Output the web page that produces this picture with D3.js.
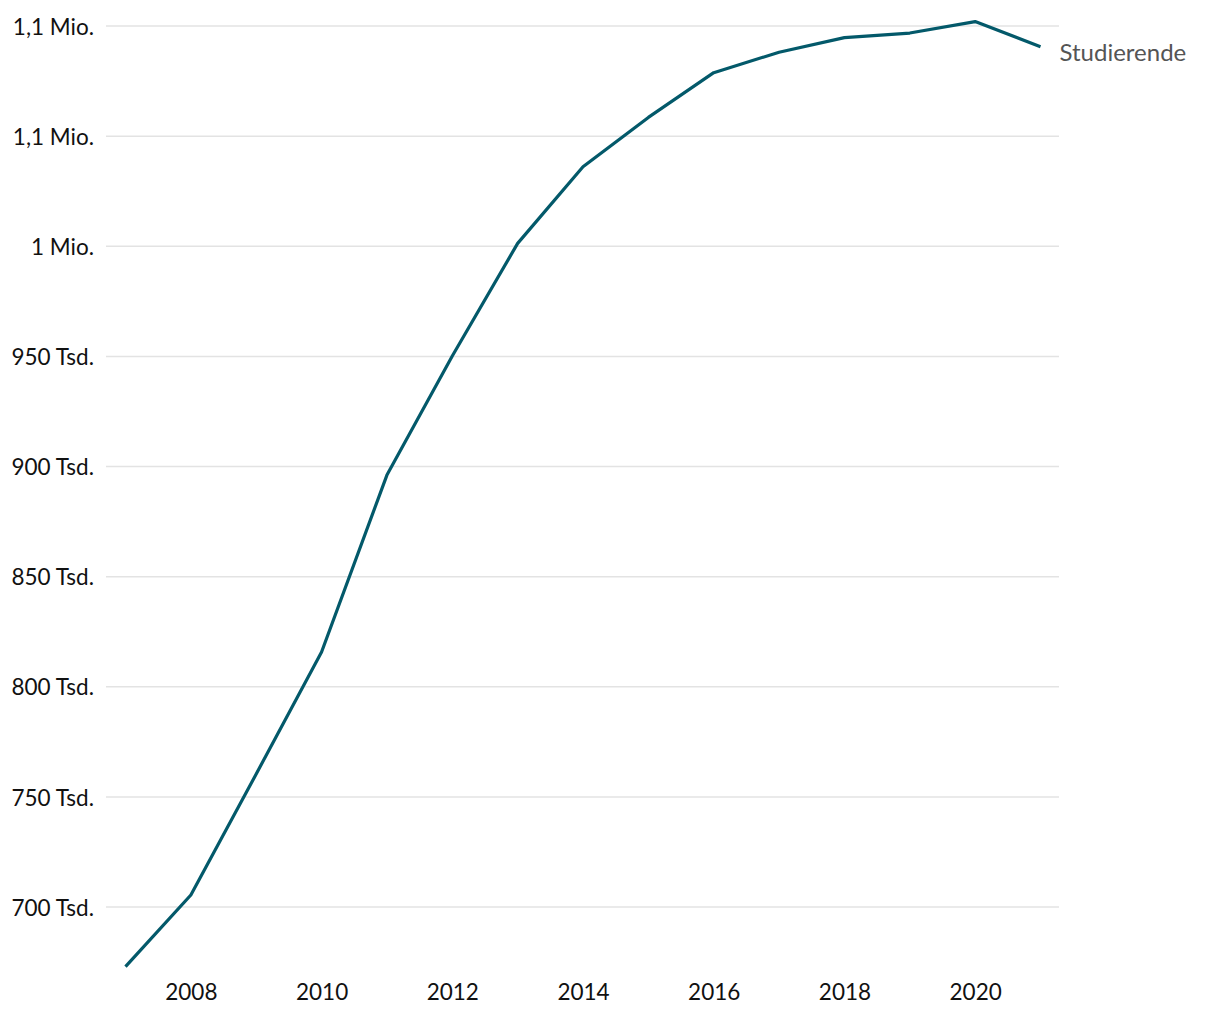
<!DOCTYPE html>
<html><head><meta charset="utf-8">
<script src="https://cdn.jsdelivr.net/npm/d3@7"></script>
<style>
body{margin:0;background:#fff;}
svg{display:block;font-family:Lato,"Noto Sans",sans-serif;}
</style></head>
<body>
<svg id="chart" width="1220" height="1020"></svg>
<script>
const years = [2007,2008,2009,2010,2011,2012,2013,2014,2015,2016,2017,2018,2019,2020,2021];
const students = [672900,705450,760400,815800,896100,950200,1001300,1036100,1058500,1078800,1088100,1094700,1096800,1102000,1090600];
const seriesName = "Studierende";
const yTicks = [700000,750000,800000,850000,900000,950000,1000000,1050000,1100000];
const yTickLabels = ["700 Tsd.","750 Tsd.","800 Tsd.","850 Tsd.","900 Tsd.","950 Tsd.","1 Mio.","1,1 Mio.","1,1 Mio."];
const xTicks = [2008,2010,2012,2014,2016,2018,2020];

const svg = d3.select("#chart");
const x = d3.scaleLinear().domain([2007,2021]).range([125.5,1040.5]);
const y = d3.scaleLinear().domain([700000,1100000]).range([907,26]);
const gridX0 = 106, gridX1 = 1059;

// grid
svg.append("g").selectAll("line").data(yTicks).join("line")
  .attr("x1",gridX0).attr("x2",gridX1)
  .attr("y1",d=>y(d)).attr("y2",d=>y(d))
  .attr("stroke","#e3e3e3").attr("stroke-width",1.5);

// y axis labels
const yAxis = d3.axisLeft(y).tickValues(yTicks)
  .tickFormat((d,i)=>yTickLabels[i]).tickSize(0).tickPadding(0);
const gy = svg.append("g").attr("transform","translate(94,1)").call(yAxis);
gy.select(".domain").remove();
gy.selectAll("text").attr("font-size",22.5).attr("fill","#111").attr("font-family","Lato,'Noto Sans',sans-serif");

// x axis labels
const xAxis = d3.axisBottom(x).tickValues(xTicks).tickFormat(d3.format("d")).tickSize(0).tickPadding(0);
const gx = svg.append("g").attr("transform","translate(0,984)").call(xAxis);
gx.select(".domain").remove();
gx.selectAll("text").attr("font-size",22.5).attr("fill","#111").attr("font-family","Lato,'Noto Sans',sans-serif");

// line
const line = d3.line().x((d,i)=>x(years[i])).y(d=>y(d));
svg.append("path").datum(students).attr("d",line)
  .attr("fill","none").attr("stroke","#03596a").attr("stroke-width",3.2)
  .attr("stroke-linejoin","round");

// label
svg.append("text").attr("x",x(years[years.length-1])+19).attr("y",y(students[students.length-1])+14)
  .attr("font-size",24).attr("fill","#555").text(seriesName);
</script>
</body></html>
